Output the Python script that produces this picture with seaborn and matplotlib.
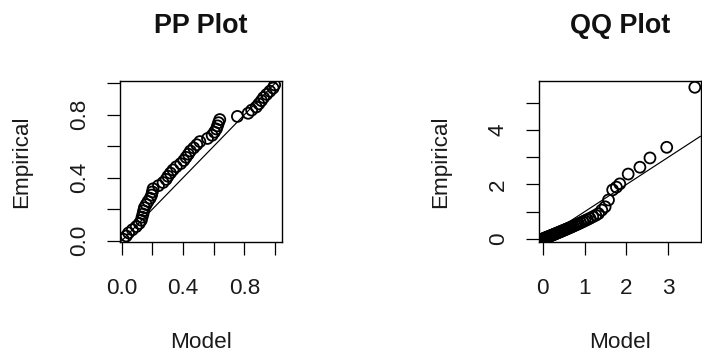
import matplotlib
matplotlib.use("Agg")
import matplotlib.pyplot as plt
import seaborn as sns

# PP plot: model probability vs empirical probability
pp_empirical = [0.01, 0.03, 0.05, 0.07, 0.09, 0.11, 0.13, 0.15, 0.17, 0.19,
                0.21, 0.23, 0.25, 0.27, 0.29, 0.31, 0.33, 0.35, 0.37, 0.39,
                0.41, 0.43, 0.45, 0.47, 0.49, 0.51, 0.53, 0.55, 0.57, 0.59,
                0.61, 0.63, 0.65, 0.67, 0.69, 0.71, 0.73, 0.75, 0.77, 0.79,
                0.81, 0.83, 0.85, 0.87, 0.89, 0.91, 0.93, 0.95, 0.97, 0.99]
pp_model = [0.010, 0.030, 0.045, 0.070, 0.095, 0.115, 0.128, 0.133, 0.139, 0.143,
            0.148, 0.160, 0.172, 0.186, 0.195, 0.200, 0.205, 0.240, 0.270, 0.290,
            0.302, 0.318, 0.335, 0.356, 0.385, 0.405, 0.420, 0.435, 0.448, 0.470,
            0.490, 0.510, 0.560, 0.590, 0.605, 0.618, 0.625, 0.632, 0.640, 0.755,
            0.825, 0.848, 0.878, 0.895, 0.912, 0.926, 0.946, 0.967, 0.988, 0.998]

# QQ plot: model quantiles vs empirical quantiles
qq_model = [0.009, 0.026, 0.044, 0.063, 0.081, 0.100, 0.120, 0.140, 0.160, 0.181,
            0.203, 0.225, 0.248, 0.271, 0.295, 0.319, 0.345, 0.371, 0.398, 0.426,
            0.455, 0.484, 0.515, 0.547, 0.580, 0.615, 0.651, 0.688, 0.727, 0.768,
            0.811, 0.857, 0.905, 0.955, 1.009, 1.066, 1.128, 1.194, 1.267,
            1.33, 1.41, 1.49, 1.57, 1.67, 1.76, 1.84, 2.04, 2.32, 2.56, 2.96, 3.63]
qq_empirical = [0.006, 0.017, 0.028, 0.040, 0.051, 0.063, 0.075, 0.088, 0.100, 0.113,
                0.127, 0.141, 0.156, 0.170, 0.185, 0.201, 0.218, 0.235, 0.252, 0.270,
                0.289, 0.308, 0.328, 0.349, 0.371, 0.394, 0.418, 0.443, 0.469, 0.497,
                0.527, 0.559, 0.593, 0.630, 0.670, 0.712, 0.760, 0.812, 0.870,
                0.93, 1.06, 1.18, 1.43, 1.80, 1.90, 2.02, 2.38, 2.63, 2.97, 3.36, 5.56]

pp_ticks = [0.0, 0.2, 0.4, 0.6, 0.8, 1.0]
pp_ticklabels = ['0.0', '', '0.4', '', '0.8', '']
qq_xticks = [0, 1, 2, 3]
qq_xticklabels = ['0', '1', '2', '3']
qq_yticks = [0, 1, 2, 3, 4, 5]
qq_yticklabels = ['0', '', '2', '', '4', '']

sns.set_style('ticks')
plt.rcParams['font.family'] = ['Liberation Sans', 'DejaVu Sans']
plt.rcParams['axes.edgecolor'] = 'black'
plt.rcParams['text.color'] = '#1a1a1a'
plt.rcParams['axes.labelcolor'] = '#1a1a1a'

LABEL_SIZE = 16.2
TITLE_SIZE = 19.4


def draw_panel(ax, x, y, title, xticks, xticklabels, yticks, yticklabels, xlim, ylim):
    sns.scatterplot(x=x, y=y, ax=ax, marker='o', s=62, color='black',
                    facecolor='none', edgecolor='black', linewidth=1.3, zorder=3)
    ax.axline((0, 0), slope=1, color='black', lw=0.85, zorder=2)
    ax.set_xlim(*xlim)
    ax.set_ylim(*ylim)
    ax.set_xticks(xticks, xticklabels)
    ax.set_yticks(yticks, yticklabels)
    for lbl in ax.get_yticklabels():
        lbl.set_rotation(90)
        lbl.set_va('center')
    ax.tick_params(axis='both', direction='out', length=9.4, width=0.9,
                   labelsize=LABEL_SIZE, colors='black', labelcolor='#1a1a1a')
    ax.tick_params(axis='x', pad=16.2)
    ax.tick_params(axis='y', pad=12.2)
    for sp in ax.spines.values():
        sp.set_visible(True)
        sp.set_linewidth(1.0)
    ax.set_xlabel('Model', fontsize=LABEL_SIZE)
    ax.set_ylabel('Empirical', fontsize=LABEL_SIZE)
    ax.xaxis.set_label_coords(0.5, -0.556)
    ax.yaxis.set_label_coords(-0.543, 0.5)
    ax.set_title(title, fontsize=TITLE_SIZE, fontweight='bold', y=1.298, pad=0,
                 color='#111111')


fig = plt.figure(figsize=(7.02, 3.53), dpi=100)
ax_pp = fig.add_axes([120 / 702, 111 / 353, 162 / 702, 161 / 353])
ax_qq = fig.add_axes([539 / 702, 111 / 353, 161.5 / 702, 161 / 353])

draw_panel(ax_pp, pp_model, pp_empirical, 'PP Plot', pp_ticks, pp_ticklabels,
           pp_ticks, pp_ticklabels, (-0.011, 1.046), (-0.008, 1.015))
draw_panel(ax_qq, qq_model, qq_empirical, 'QQ Plot', qq_xticks, qq_xticklabels,
           qq_yticks, qq_yticklabels, (-0.088, 3.766), (-0.11, 5.79))

fig.savefig('out.png', dpi=100)
